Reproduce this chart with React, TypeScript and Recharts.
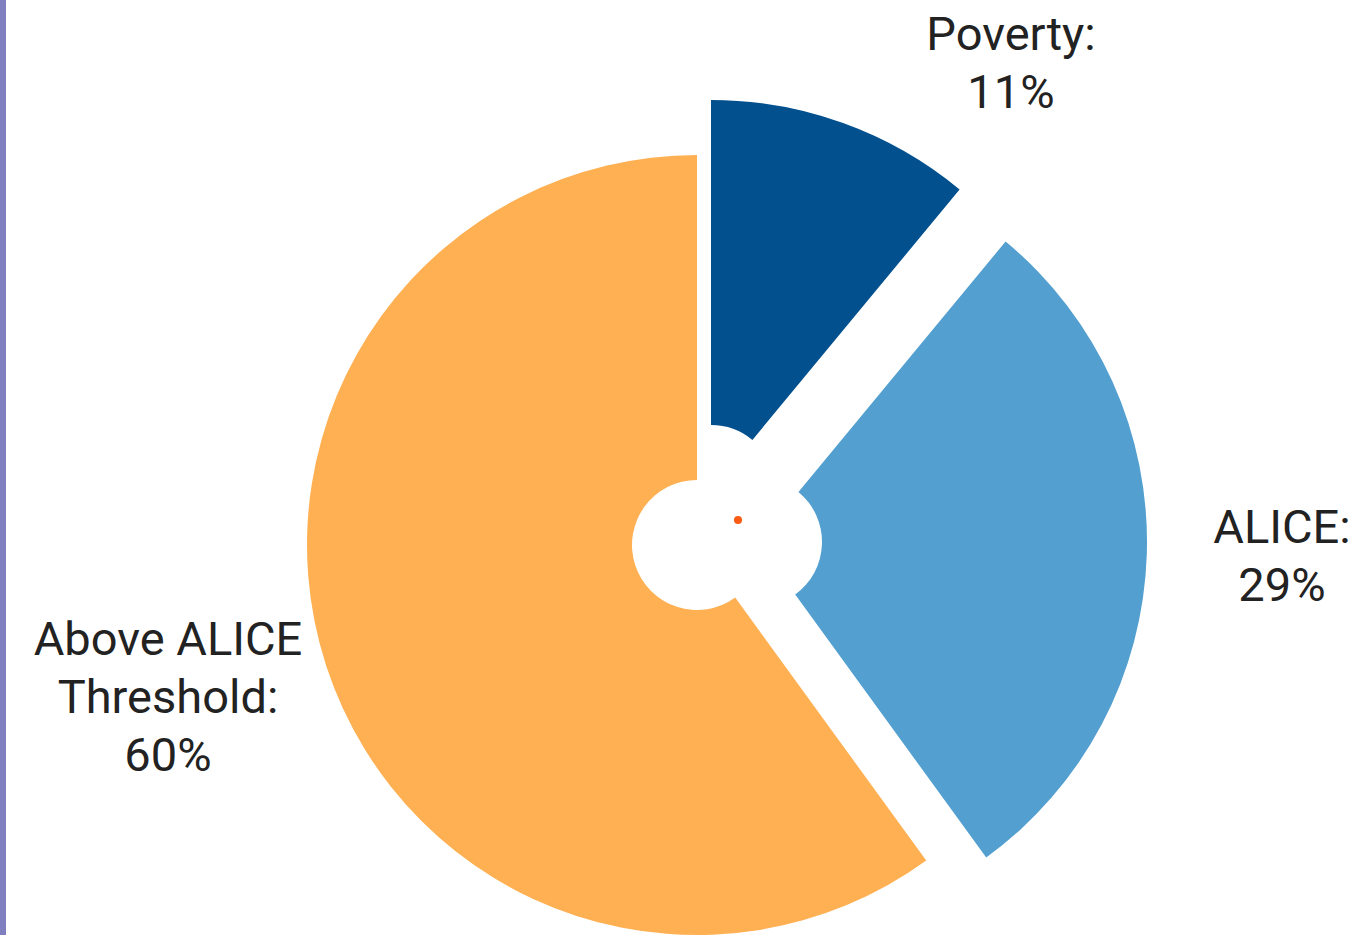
import { PieChart, Pie, Cell } from "recharts";

// data
const categories = ["Poverty", "ALICE", "Above ALICE Threshold"];
const shares = [11, 29, 60];
const labelLines = [
  ["Poverty:", "11%"],
  ["ALICE:", "29%"],
  ["Above ALICE", "Threshold:", "60%"],
];

const COLORS = ["#02508E", "#539FD0", "#FEB052"];

// each slice is pulled out by a different amount, so each one gets its own centre
const SLICE_CENTERS = [
  { cx: 711, cy: 490 },
  { cx: 757, cy: 542 },
  { cx: 697, cy: 545 },
];
// where the first line of each label sits (text centre x, baseline y)
const LABEL_POS = [
  { x: 1011, y: 50 },
  { x: 1282, y: 543 },
  { x: 168, y: 655 },
];
const LINE_GAP = 58;

const W = 1360;
const H = 935;

const chartData = categories.map((name, i) => ({ name, value: shares[i] }));

function renderLabel(props: any) {
  const i = props.index;
  const pos = LABEL_POS[i];
  return (
    <text
      key={"lbl-" + i}
      x={pos.x}
      y={pos.y}
      textAnchor="middle"
      fill="#222"
      fontSize={47}
      fontFamily="Roboto, 'Noto Sans', sans-serif"
    >
      {labelLines[i].map((t, k) => (
        <tspan key={k} x={pos.x} y={pos.y + k * LINE_GAP}>
          {t}
        </tspan>
      ))}
    </text>
  );
}

export default function App() {
  return (
    <div
      style={{
        position: "absolute",
        left: 0,
        top: 0,
        width: W,
        height: H,
        background: "#fff",
        overflow: "hidden",
      }}
    >
      <div
        style={{
          position: "absolute",
          left: 0,
          top: 0,
          width: 6,
          height: H,
          background: "#8080C0",
        }}
      />
      <PieChart width={W} height={H} margin={{ top: 0, right: 0, bottom: 0, left: 0 }}>
        {SLICE_CENTERS.map((c, p) => (
          <Pie
            key={p}
            data={chartData}
            dataKey="value"
            nameKey="name"
            cx={c.cx}
            cy={c.cy}
            innerRadius={65}
            outerRadius={390}
            startAngle={90}
            endAngle={-270}
            stroke="none"
            isAnimationActive={false}
            labelLine={false}
            label={p === 0 ? renderLabel : false}
          >
            {chartData.map((d, i) => (
              <Cell key={d.name} fill={i === p ? COLORS[i] : "transparent"} />
            ))}
          </Pie>
        ))}
      </PieChart>
      <div
        style={{
          position: "absolute",
          left: 734,
          top: 516,
          width: 8,
          height: 8,
          borderRadius: 4,
          background: "#FF5A14",
        }}
      />
    </div>
  );
}
